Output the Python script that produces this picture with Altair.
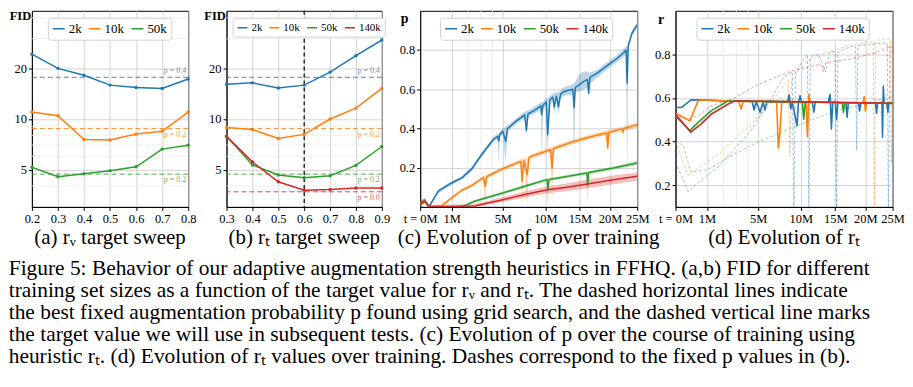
import altair as alt
import pandas as pd

SERIF = "Liberation Serif"
SIZES = ["2k", "10k", "50k", "140k"]
COLORS = ["#1f77b4", "#ff7f0e", "#2ca02c", "#d62728"]

# ---------------- panel (a): r_v target sweep ----------------
RV = [0.2, 0.3, 0.4, 0.5, 0.6, 0.7, 0.8]
A_2K = [24.3, 20.0, 18.2, 15.9, 15.4, 15.2, 17.3]
A_10K = [11.0, 10.45, 7.55, 7.5, 8.15, 8.45, 11.0]
A_50K = [5.16, 4.53, 4.73, 4.93, 5.2, 6.62, 6.99]
A_BEST = [17.7, 8.77, 4.7]
A_BEST_LABEL = ["p = 0.4", "p = 0.2", "p = 0.2"]

# ---------------- panel (b): r_t target sweep ----------------
RT = [0.3, 0.4, 0.5, 0.6, 0.7, 0.8, 0.9]
B_2K = [16.1, 16.4, 15.3, 15.9, 19.0, 23.8, 29.5]
B_10K = [8.9, 8.65, 7.65, 8.1, 10.0, 11.6, 15.2]
B_50K = [7.9, 5.33, 4.65, 4.47, 4.6, 5.3, 6.86]
B_140K = [7.9, 5.56, 4.23, 3.77, 3.81, 3.89, 3.89]
B_BEST = [17.7, 8.77, 4.7, 3.69]
B_BEST_LABEL = ["p = 0.4", "p = 0.2", "p = 0.2", "p = 0.0"]
B_TARGET = [0.6]

FID_MAJOR = [5, 10, 20]
FID_MINOR = [4, 6, 7, 8, 9, 30, 40]
T_TICKS = [0, 1, 5, 10, 15, 20, 25]
T_MINOR = [2, 3, 4]

# ---------------- panel (c): p over training (t [M], p, band lo, band hi) ----------------
C_2K = [(0, 0.015, 0.005, 0.03), (0.04, 0.035, 0.02, 0.045), (0.12, 0.0, 0.0, 0.01),
        (0.4, 0.08, 0.07, 0.09), (1.0, 0.122, 0.112, 0.132), (1.6, 0.148, 0.138, 0.158),
        (2.3, 0.195, 0.183, 0.207), (3.0, 0.262, 0.25, 0.274), (4.1, 0.345, 0.332, 0.358),
        (4.5, 0.36, 0.345, 0.375), (4.6, 0.335, 0.215, 0.37), (4.7, 0.37, 0.355, 0.385),
        (5.0, 0.385, 0.37, 0.4), (5.3, 0.335, 0.225, 0.41), (5.5, 0.40, 0.385, 0.415),
        (6.5, 0.44, 0.425, 0.455), (7.4, 0.469, 0.452, 0.486), (7.6, 0.39, 0.36, 0.49),
        (7.8, 0.475, 0.458, 0.492), (8.5, 0.49, 0.472, 0.508), (9.4, 0.515, 0.497, 0.533),
        (9.5, 0.47, 0.232, 0.535), (9.7, 0.52, 0.502, 0.538), (10.1, 0.535, 0.515, 0.555),
        (10.3, 0.368, 0.28, 0.555), (10.6, 0.545, 0.525, 0.565), (11.0, 0.56, 0.54, 0.58),
        (11.2, 0.51, 0.47, 0.58), (11.5, 0.565, 0.545, 0.585), (11.8, 0.51, 0.47, 0.585),
        (12.1, 0.575, 0.555, 0.595), (12.6, 0.588, 0.565, 0.61), (13.9, 0.60, 0.575, 0.625),
        (14.1, 0.507, 0.232, 0.63), (14.3, 0.61, 0.585, 0.64), (15.0, 0.625, 0.59, 0.68),
        (15.7, 0.641, 0.6, 0.69), (16.2, 0.65, 0.61, 0.69), (16.4, 0.58, 0.55, 0.685),
        (16.6, 0.66, 0.625, 0.685), (17.8, 0.682, 0.66, 0.70), (20.1, 0.733, 0.715, 0.75),
        (21.3, 0.758, 0.74, 0.775), (22.6, 0.79, 0.77, 0.81), (22.9, 0.80, 0.78, 0.82),
        (23.1, 0.631, 0.079, 0.82), (23.3, 0.82, 0.8, 0.84), (24.0, 0.886, 0.87, 0.9),
        (25, 0.928, 0.91, 0.94)]
C_10K = [(0, 0.015, 0.005, 0.03), (0.04, 0.035, 0.02, 0.045), (0.12, 0.0, 0.0, 0.01),
         (0.53, 0.005, 0.0, 0.012), (1.0, 0.046, 0.038, 0.054), (1.6, 0.085, 0.077, 0.093),
         (2.3, 0.11, 0.1, 0.12), (3.2, 0.15, 0.14, 0.16), (3.35, 0.105, 0.0, 0.16),
         (3.5, 0.155, 0.145, 0.165), (5.0, 0.195, 0.185, 0.205), (6.0, 0.215, 0.205, 0.225),
         (6.95, 0.232, 0.22, 0.244), (7.1, 0.13, 0.0, 0.245), (7.3, 0.235, 0.223, 0.247),
         (7.7, 0.165, 0.0, 0.25), (7.9, 0.25, 0.238, 0.262), (8.2, 0.258, 0.246, 0.27),
         (10.7, 0.292, 0.28, 0.304), (10.9, 0.198, 0.0, 0.305), (11.1, 0.298, 0.286, 0.31),
         (14.1, 0.334, 0.322, 0.346), (17.0, 0.36, 0.348, 0.372), (19.4, 0.377, 0.365, 0.389),
         (19.6, 0.30, 0.29, 0.39), (19.8, 0.38, 0.368, 0.392), (22.1, 0.398, 0.386, 0.41),
         (22.3, 0.38, 0.37, 0.41), (22.5, 0.40, 0.388, 0.412), (25, 0.419, 0.405, 0.43)]
C_50K = [(0, 0.015, 0.005, 0.03), (0.04, 0.03, 0.02, 0.04), (0.12, 0.0, 0.0, 0.01),
         (1.6, 0.0, 0.0, 0.006), (2.5, 0.029, 0.022, 0.036), (5.0, 0.071, 0.063, 0.079),
         (7.4, 0.105, 0.097, 0.113), (10.2, 0.139, 0.131, 0.147), (10.35, 0.09, 0.0, 0.147),
         (10.5, 0.14, 0.132, 0.148), (13.0, 0.155, 0.147, 0.163), (16.1, 0.173, 0.165, 0.181),
         (16.25, 0.11, 0.0, 0.181), (16.4, 0.175, 0.167, 0.183), (20.6, 0.198, 0.19, 0.206),
         (25, 0.224, 0.214, 0.234)]
C_140K = [(0, 0.015, 0.005, 0.03), (0.04, 0.03, 0.02, 0.04), (0.12, 0.0, 0.0, 0.01),
          (2.5, 0.005, 0.0, 0.015), (5.0, 0.037, 0.025, 0.05), (7.4, 0.063, 0.048, 0.078),
          (10.3, 0.088, 0.07, 0.105), (13.0, 0.1, 0.08, 0.12), (16.2, 0.117, 0.095, 0.14),
          (20.6, 0.139, 0.115, 0.16), (25, 0.156, 0.135, 0.175)]

# ---------------- panel (d): r_t over training (t [M], r) ----------------
D_2K = [(0, 0.556), (0.06, 0.556), (0.32, 0.592), (1, 0.59), (2, 0.586), (3, 0.585),
        (4.4, 0.584), (4.6, 0.545), (4.8, 0.584), (5.2, 0.534), (5.5, 0.58), (5.7, 0.545),
        (5.9, 0.583), (8.3, 0.582), (8.5, 0.615), (8.7, 0.55), (8.9, 0.58), (9.5, 0.473),
        (9.7, 0.58), (9.9, 0.61), (10.1, 0.58), (11.6, 0.58), (11.8, 0.535), (12.0, 0.58),
        (13.9, 0.58), (14.2, 0.616), (14.4, 0.458), (14.6, 0.58), (15.0, 0.58), (15.2, 0.503),
        (15.4, 0.578), (16.7, 0.578), (16.9, 0.512), (17.1, 0.578), (18.8, 0.578), (19.0, 0.54),
        (19.2, 0.578), (21.8, 0.577), (22.0, 0.53), (22.2, 0.577), (23.0, 0.58), (23.1, 0.42),
        (23.25, 0.655), (23.4, 0.577), (23.9, 0.577), (24.1, 0.535), (24.3, 0.577), (25, 0.575)]
D_10K = [(0, 0.529), (0.27, 0.495), (0.57, 0.586), (0.7, 0.592), (1, 0.59), (2, 0.587),
         (3.2, 0.585), (3.4, 0.549), (3.6, 0.585), (7.0, 0.583), (7.2, 0.371), (7.4, 0.45),
         (7.6, 0.583), (10.7, 0.582), (10.9, 0.423), (11.1, 0.616), (11.3, 0.58), (19.6, 0.578),
         (19.8, 0.607), (20.0, 0.54), (20.2, 0.578), (25, 0.575)]
D_50K = [(0, 0.518), (0.27, 0.45), (0.6, 0.49), (1.23, 0.541), (2.33, 0.586), (3, 0.586),
         (10.2, 0.582), (10.4, 0.503), (10.6, 0.582), (16.1, 0.578), (16.3, 0.534),
         (16.5, 0.578), (25, 0.575)]
D_140K = [(0, 0.525), (0.3, 0.443), (0.7, 0.48), (1.23, 0.525), (2.33, 0.571), (2.85, 0.586),
          (5, 0.585), (10, 0.582), (15, 0.58), (20, 0.578), (25, 0.576)]
# dashed: runs with the fixed p from (b)
E_2K = [(0, 0.306), (0.22, 0.17), (0.72, 0.223), (1.65, 0.283), (2.85, 0.367), (4.3, 0.45),
        (6.0, 0.571), (7.9, 0.70), (8.9, 0.72), (9.1, 0.05), (9.3, 0.72), (10.9, 0.80),
        (11.1, 0.05), (11.3, 0.79), (12.5, 0.80), (13.5, 0.72), (14.2, 0.813), (15.0, 0.81),
        (15.2, 0.05), (15.4, 0.81), (17.0, 0.83), (18.3, 0.84), (18.5, 0.36), (18.7, 0.84),
        (21.0, 0.845), (23.2, 0.852), (24.0, 0.85), (24.2, 0.05), (24.5, 0.84), (25, 0.844)]
E_10K = [(0, 0.40), (0.22, 0.245), (0.72, 0.29), (1.65, 0.34), (2.85, 0.41), (4.3, 0.48),
         (6.0, 0.56), (7.9, 0.66), (8.4, 0.68), (8.6, 0.33), (8.8, 0.68), (9.5, 0.72),
         (11.0, 0.77), (13.0, 0.80), (15.0, 0.82), (17.0, 0.84), (19.0, 0.85), (21.4, 0.86),
         (21.6, 0.05), (21.8, 0.86), (23.0, 0.87), (24.6, 0.87), (24.8, 0.3), (25, 0.87)]
E_50K = [(0, 0.405), (0.1, 0.38), (0.3, 0.26), (1.0, 0.27), (2.85, 0.344), (5.0, 0.397),
         (8.0, 0.45), (11.8, 0.503), (15.0, 0.54), (18.5, 0.564), (22.0, 0.59), (24.5, 0.602),
         (25, 0.605)]
E_140K = [(0, 0.534), (0.22, 0.503), (0.6, 0.52), (1.23, 0.564), (2.85, 0.60), (5.0, 0.662),
          (8.7, 0.723), (12.8, 0.755), (13.2, 0.72), (13.5, 0.76), (18.5, 0.784), (22.0, 0.81),
          (24.5, 0.836), (25, 0.83)]

CAPTION = [
    "Figure 5: Behavior of our adaptive augmentation strength heuristics in FFHQ. (a,b) FID for different",
    "training set sizes as a function of the target value for rᵥ and rₜ. The dashed horizontal lines indicate",
    "the best fixed augmentation probability p found using grid search, and the dashed vertical line marks",
    "the target value we will use in subsequent tests. (c) Evolution of p over the course of training using",
    "heuristic rₜ. (d) Evolution of rₜ values over training. Dashes correspond to the fixed p values in (b).",
]

AXIS_STYLE = dict(labelFont=SERIF, labelFontSize=12.5, labelColor="black", labelOverlap=False,
                  labelFlush=False, labelPadding=2, tickColor="black", tickSize=3.5,
                  domainColor="black", gridColor="#c8c8c8", gridWidth=0.8, titleFont=SERIF,
                  titleColor="black")


def legend(x, fs, sym, colpad):
    return alt.Legend(orient="none", legendX=x, legendY=7, direction="horizontal", title=None,
                      fillColor="white", strokeColor="#d0d0d0", cornerRadius=3, padding=4,
                      labelFont=SERIF, labelFontSize=fs, labelColor="black", symbolType="stroke",
                      symbolSize=sym, symbolStrokeWidth=1.6, symbolDash=[1, 0], symbolOpacity=1,
                      columnPadding=colpad, labelOffset=3)


def sub_title(text):
    return alt.TitleParams(text=text, orient="bottom", font=SERIF, fontSize=21, fontWeight="normal",
                           offset=2, anchor="middle", color="black")


def sweep_panel(xs, series, best, best_labels, names, xdomain, leg, title, width, vline=None):
    rows = []
    for nm, vals in zip(names, series):
        for x, v in zip(xs, vals):
            rows.append({"x": x, "fid": v, "size": nm})
    df = pd.DataFrame(rows)
    bdf = pd.DataFrame({"fid": best, "size": names, "lab": best_labels, "x": [xdomain[1]] * len(names)})
    mdf = pd.DataFrame({"fid": FID_MINOR})
    xenc = alt.X("x:Q", scale=alt.Scale(domain=xdomain, nice=False, zero=False),
                 axis=alt.Axis(values=xs, format=".1f", title=None, **AXIS_STYLE))
    yenc = alt.Y("fid:Q", scale=alt.Scale(type="log", domain=[3, 44], nice=False),
                 axis=alt.Axis(values=FID_MAJOR, format="d", title="FID", titleAngle=0,
                               titleAlign="center", titleBaseline="middle", titleX=-12, titleY=5,
                               titleFontWeight="bold", titleFontSize=12.5, **AXIS_STYLE))
    col = alt.Color("size:N", scale=alt.Scale(domain=names, range=COLORS[:len(names)]), legend=leg)
    layers = [
        alt.Chart(mdf).mark_rule(color="#ececec", strokeWidth=0.8).encode(y=yenc),
        alt.Chart(bdf).mark_rule(strokeDash=[5, 3], strokeWidth=1, opacity=0.85).encode(y=yenc, color=col),
    ]
    if vline is not None:
        layers.append(alt.Chart(pd.DataFrame({"x": vline})).mark_rule(
            color="black", strokeDash=[4, 3], strokeWidth=1.2).encode(x=xenc))
    layers += [
        alt.Chart(df).mark_line(strokeWidth=1.5, point=alt.OverlayMarkDef(filled=True, size=12))
        .encode(x=xenc, y=yenc, color=col),
        alt.Chart(bdf).transform_filter("datum.size == '2k'").mark_text(
            align="right", baseline="bottom", dx=-2, dy=-2, fontSize=8, font=SERIF, opacity=0.75)
        .encode(x=xenc, y=yenc, text="lab:N", color=col),
        alt.Chart(bdf).transform_filter("datum.size != '2k'").mark_text(
            align="right", baseline="top", dx=-2, dy=2, fontSize=8, font=SERIF, opacity=0.75)
        .encode(x=xenc, y=yenc, text="lab:N", color=col),
    ]
    return alt.layer(*layers).properties(width=width, height=197, title=sub_title(title))


def time_axes(ydomain, ytitle, tx, ty):
    xenc = alt.X("t:Q", scale=alt.Scale(type="pow", exponent=0.6, domain=[0, 25], nice=False, zero=False),
                 axis=alt.Axis(values=T_TICKS, title=None,
                               labelExpr="datum.value == 0 ? 't = 0M' : datum.value + 'M'", **AXIS_STYLE))
    yenc = alt.Y("v:Q", scale=alt.Scale(domain=ydomain, nice=False, zero=False),
                 axis=alt.Axis(values=[0.2, 0.4, 0.6, 0.8], format=".1f", title=ytitle, titleAngle=0,
                               titleAlign="center", titleBaseline="middle", titleX=tx, titleY=ty,
                               titleFontWeight="bold", titleFontSize=14, **AXIS_STYLE))
    return xenc, yenc


def minor_t(xenc):
    return alt.Chart(pd.DataFrame({"t": T_MINOR})).mark_rule(color="#e6e6e6", strokeWidth=0.8).encode(x=xenc)


# panel (c)
c_rows = []
for nm, ser in zip(SIZES, [C_2K, C_10K, C_50K, C_140K]):
    for t, p, lo, hi in ser:
        c_rows.append({"t": t, "v": p, "lo": lo, "hi": hi, "size": nm})
cdf = pd.DataFrame(c_rows)
cx, cy = time_axes([0, 1.0], "p", -16, 8)
ccol = alt.Color("size:N", scale=alt.Scale(domain=SIZES, range=COLORS), legend=legend(20, 13, 144, 3))
panel_c = alt.layer(
    minor_t(cx),
    alt.Chart(cdf).mark_area(opacity=0.3, clip=True).encode(
        x=cx, y=alt.Y("lo:Q", scale=alt.Scale(domain=[0, 1.0], nice=False, zero=False)), y2="hi:Q", color=ccol),
    alt.Chart(cdf).mark_line(strokeWidth=1.5, strokeJoin="round", clip=True).encode(x=cx, y=cy, color=ccol),
).properties(width=218, height=197, title=sub_title("(c) Evolution of p over training"))

# panel (d)
d_rows, e_rows = [], []
for nm, ser in zip(SIZES, [D_2K, D_10K, D_50K, D_140K]):
    for t, r in ser:
        d_rows.append({"t": t, "v": r, "size": nm})
for nm, ser in zip(SIZES, [E_2K, E_10K, E_50K, E_140K]):
    for t, r in ser:
        e_rows.append({"t": t, "v": r, "size": nm})
ddf = pd.DataFrame(d_rows)
edf = pd.DataFrame(e_rows)
dx_, dy_ = time_axes([0.1, 1.0], "r", -15, 9)
dcol = alt.Color("size:N", scale=alt.Scale(domain=SIZES, range=COLORS), legend=legend(21, 13, 144, 3))
panel_d = alt.layer(
    minor_t(dx_),
    alt.Chart(edf).mark_line(strokeWidth=1, strokeDash=[3, 2], opacity=0.45, clip=True).encode(
        x=dx_, y=dy_, color=dcol),
    alt.Chart(ddf).mark_line(strokeWidth=1.6, strokeJoin="round", clip=True).encode(x=dx_, y=dy_, color=dcol),
).properties(width=218, height=197, title=sub_title("(d) Evolution of rₜ"))

panel_a = sweep_panel(RV, [A_2K, A_10K, A_50K], A_BEST, A_BEST_LABEL, SIZES[:3], [0.2, 0.8],
                      legend(16, 13, 144, 3), "(a) rᵥ target sweep", 157)
panel_b = sweep_panel(RT, [B_2K, B_10K, B_50K, B_140K], B_BEST, B_BEST_LABEL, SIZES, [0.3, 0.9],
                      legend(6, 11, 100, 3), "(b) rₜ target sweep", 156, vline=B_TARGET)

chart = alt.hconcat(
    panel_a, panel_b, panel_c, panel_d, spacing=38.5, bounds="flush", padding=0,
    title=alt.TitleParams(text=CAPTION, orient="bottom", anchor="start", align="left", frame="bounds",
                          font=SERIF, fontSize=21.5, fontWeight="normal", lineHeight=22, offset=10,
                          color="black"),
).resolve_scale(color="independent").configure_view(
    stroke="black", strokeWidth=1
)

chart.save("out.html", embed_options={"renderer": "svg", "actions": False})
